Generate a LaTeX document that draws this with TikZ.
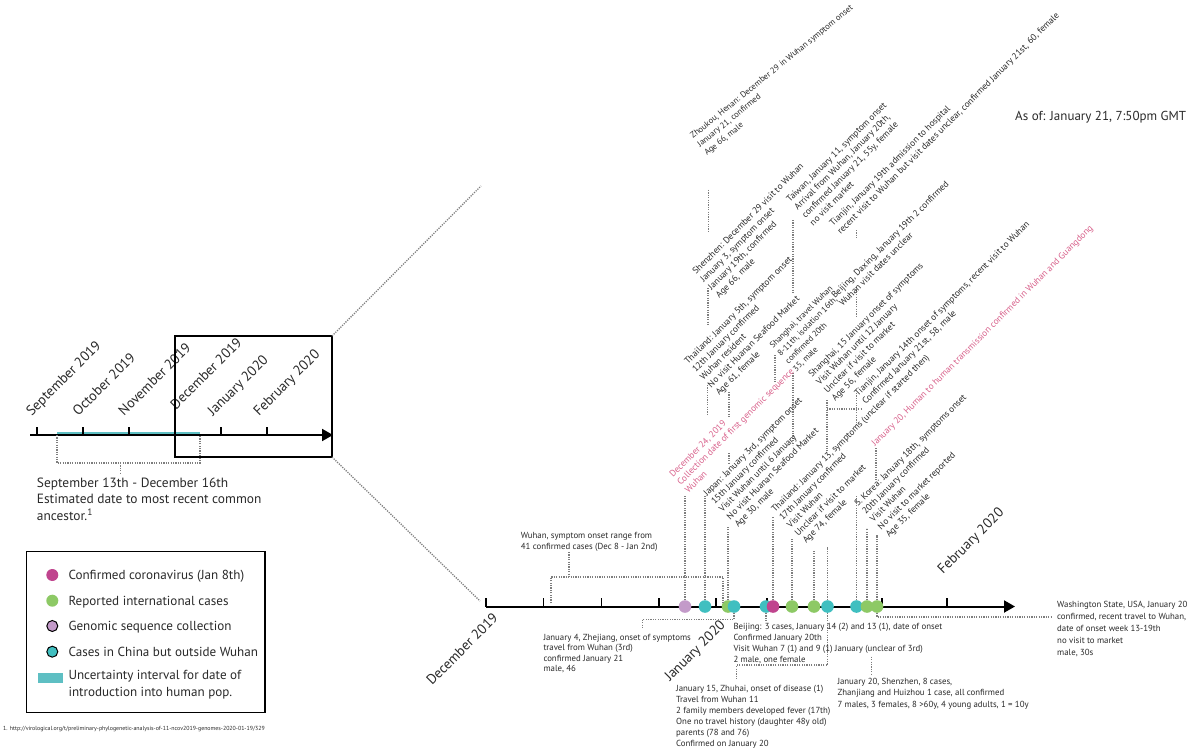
\documentclass[tikz,border=0pt]{standalone}
\usepackage{fontspec}
\setmainfont{PT Sans}
\usetikzlibrary{arrows.meta}
\definecolor{cmag}{HTML}{C0448E}
\definecolor{cgreen}{HTML}{8DC965}
\definecolor{cpurp}{HTML}{C39AC9}
\definecolor{cteal}{HTML}{40BFC0}
\definecolor{cbar}{HTML}{5EBFC3}
\definecolor{cpink}{HTML}{D9628C}
\definecolor{cdot}{HTML}{7E7E7E}
\definecolor{ctext}{HTML}{2A2A2A}
\newcommand\blk[1]{\begin{tabular}[t]{@{}l@{}}#1\end{tabular}}
\begin{document}
\begin{tikzpicture}[x=1pt,y=-1pt,
  every node/.style={text=ctext},
  dotl/.style={draw=cdot, line width=1.3pt, dash pattern=on 1.2pt off 1.2pt},
  rotl/.style={rotate=45, anchor=base west, inner sep=0pt, font=\fontsize{9.1}{11}\selectfont},
  hl/.style={anchor=base west, inner sep=0pt, font=\fontsize{8.8}{11}\selectfont},
  bigl/.style={rotate=45, anchor=base west, inner sep=0pt, font=\fontsize{14}{16}\selectfont},
  dotc/.style={circle, inner sep=0pt, minimum size=12.6pt},
  axisl/.style={draw=black, line width=2pt, -{Triangle[length=11pt,width=12pt]}},
  tickl/.style={draw=black, line width=1.6pt}]
\useasboundingbox (0,0) rectangle (1200,749);
\fill[white] (0,0) rectangle (1200,749);

% ---------- left overview timeline ----------
\fill[cbar] (57,431.5) rectangle (200,435);
\draw[axisl] (30,435) -- (333,435);
\foreach \x in {36.7,82.7,128.7,174.7,220.7,266.7} \draw[tickl] (\x,427) -- (\x,435);
\node[bigl] (mSep) at (31.7,416.7) {September 2019};
\node[bigl] (mOct) at (78.3,416.7) {October 2019};
\node[bigl] (mNov) at (124,416.7) {November 2019};
\node[bigl] (mDec) at (176,410.5) {December 2019};
\node[bigl] (mJan) at (213,416.7) {January 2020};
\node[bigl] (mFeb) at (259,416.7) {February 2020};
\draw[black, line width=1.3pt] (175,336) rectangle (332,457);
\coordinate (zTR) at (332,336);
\coordinate (zBR) at (332,457);
\coordinate (zT) at (481,186);
\coordinate (zB) at (480,601);
\draw[dotl] (zTR) -- (zT);
\draw[dotl] (zBR) -- (zB);
\coordinate (bL) at (57,435); \coordinate (bR) at (200,435);
\coordinate (bM) at (120.7,474);
\draw[dotl] (bL) -- (57,463) -- (200,463) -- (bR);
\draw[dotl] (120.7,463) -- (bM);
\node[anchor=base west, inner sep=0pt, font=\fontsize{13.4}{16.7}\selectfont] (tmrca) at (36.7,487)
  {\blk{September 13th - December 16th\\Estimated date to most recent common\\ancestor.\textsuperscript{1}}};

% ---------- legend ----------
\draw[black, line width=1.3pt] (26.7,551.7) rectangle (265,712.7);
\node[dotc, minimum size=12pt, fill=cmag] (l1) at (52.3,575) {};
\node[dotc, minimum size=12pt, fill=cgreen] (l2) at (52.3,600.7) {};
\node[dotc, minimum size=11pt, fill=cpurp, draw=black, line width=1pt] (l3) at (52.3,626) {};
\node[dotc, minimum size=11pt, fill=cteal, draw=black, line width=1pt] (l4) at (52.3,651.7) {};
\fill[cbar] (38.3,672.7) rectangle (62.7,682.7);
\begin{scope}[every node/.style={anchor=base west, inner sep=0pt, text=ctext, font=\fontsize{13.1}{16.7}\selectfont}]
\node (lt1) at (68.3,579.5) {Confirmed coronavirus (Jan 8th)};
\node (lt2) at (68.3,605.2) {Reported international cases};
\node (lt3) at (68.3,630.5) {Genomic sequence collection};
\node (lt4) at (68.3,656.2) {Cases in China but outside Wuhan};
\node (lt5) at (68.3,679.5) {\blk{Uncertainty interval for date of\\introduction into human pop.}};
\end{scope}
\node[anchor=base west, inner sep=0pt, font=\fontsize{5.9}{7}\selectfont] (foot) at (3,730)
  {1. http://virological.org/t/preliminary-phylogenetic-analysis-of-11-ncov2019-genomes-2020-01-19/329};

% ---------- main timeline ----------
\draw[axisl] (486,606.5) -- (1015,606.5);
\foreach \x in {486,543.3,601.3,659,716,767,882,946.7} \draw[tickl] (\x,598) -- (\x,606.5);
\node[bigl] (bDec) at (432,686) {December 2019};
\node[bigl] (bJan) at (670,682) {January 2020};
\node[bigl] (bFeb) at (943,575) {February 2020};

\node[dotc, fill=cpurp] (c1) at (685,606.5) {};
\node[dotc, fill=cteal] (c2) at (705,606.5) {};
\node[dotc, fill=cgreen] (c3) at (728,606.5) {};
\node[dotc, fill=cteal] (c4) at (734,606.5) {};
\node[dotc, fill=cteal] (c5) at (766,606.5) {};
\node[dotc, fill=cmag] (c6) at (773,606.5) {};
\node[dotc, fill=cgreen] (c7) at (792,606.5) {};
\node[dotc, fill=cgreen] (c8) at (814,606.5) {};
\node[dotc, fill=cteal] (c9) at (827.5,606.5) {};
\node[dotc, fill=cteal] (c10) at (856.5,606.5) {};
\node[dotc, fill=cgreen] (c11) at (867,606.5) {};
\node[dotc, fill=cgreen] (c12) at (877,606.5) {};

% connectors above axis
\coordinate (u1) at (685,495);   \draw[dotl] (c1) -- (u1);
\coordinate (u2) at (705,495);   \draw[dotl] (c2) -- (u2);
\draw[dotl] (707.5,385) -- (707.5,415);
\draw[dotl] (708,288) -- (708,326);
\draw[dotl] (708.5,190) -- (708.5,232);
\coordinate (u3) at (728,527);   \draw[dotl] (c3) -- (u3);
\draw[dotl] (729,453) -- (729,463);
\draw[dotl] (729,392) -- (729,418);
\coordinate (u6) at (773,517);   \draw[dotl] (c6) -- (u6);
\draw[dotl] (775,355) -- (775,382);
\coordinate (u7) at (792,538);   \draw[dotl] (c7) -- (u7);
\draw[dotl] (793,373) -- (793,445);
\draw[dotl] (793,220) -- (793,293);
\coordinate (u8) at (814,550);   \draw[dotl] (c8) -- (u8);
\coordinate (u9) at (827.5,547); \draw[dotl] (c9) -- (u9);
\draw[dotl] (827,400) -- (827,451);
\draw[dotl] (827,409) -- (862,409);
\coordinate (u10) at (856.5,495); \draw[dotl] (c10) -- (u10);
\draw[dotl] (856.5,393) -- (856.5,425);
\draw[dotl] (856.5,287) -- (856.5,318);
\draw[dotl] (856.5,230) -- (856.5,238);
\coordinate (u11) at (867,528);  \draw[dotl] (c11) -- (u11);
\coordinate (u12) at (877,535);  \draw[dotl] (c12) -- (u12);
\draw[dotl] (876,448) -- (876,480);

% connectors below axis
\coordinate (wuT) at (569,552);
\draw[dotl] (wuT) -- (569,577);
\draw[dotl] (551,603) -- (551,577) -- (723,577) -- (723,603);
\coordinate (zjT) at (642.3,628.3);
\draw[dotl] (c4) -- (734,619.3) -- (642.3,619.3) -- (zjT);
\coordinate (bjT) at (766,621.7);
\draw[dotl] (c5) -- (bjT);
\coordinate (zhT) at (736.7,680);
\draw[dotl] (c9) -- (827.5,665) -- (736.7,665) -- (zhT);
\draw[dotl] (871.7,656.7) -- (871.7,675);
\coordinate (waT) at (1052,617);
\draw[dotl] (c12) -- (877,617) -- (waT);

% ---------- rotated labels ----------
\node[rotl, rotate=-6, font=\fontsize{8.5}{11}\selectfont] (zhoukou) at (693,139) {\blk{Zhoukou, Henan: December 29 in Wuhan symptom onset\\January 21, confirmed\\Age 66, male}};
\node[rotl] (shenzhen) at (696,275) {\blk{Shenzhen: December 29 visit to Wuhan\\January 3, symptom onset\\January 19th, confirmed\\Age 66, male}};
\node[rotl] (taiwan) at (790,203) {\blk{Taiwan, January 11, symptom onset\\Arrival from Wuhan, January 20th,\\confirmed January 21, 55y, female\\no visit market}};
\node[rotl] (tianjinA) at (833,227) {\blk{Tianjin, January 19th admission to hospital\\recent visit to Wuhan but visit dates unclear, confirmed January 21st, 60, female}};
\node[rotl] (daxing) at (835,299) {\blk{Beijing, Daxing, January 19th 2 confirmed\\Wuhan visit dates unclear}};
\node[rotl] (thaiA) at (688,365) {\blk{Thailand: January 5th, symptom onset\\12th January confirmed\\Wuhan resident\\No visit Huanan Seafood Market\\Age 61, female}};
\node[rotl, font=\fontsize{8.4}{11}\selectfont] (shanghaiA) at (773,349) {\blk{Shanghai, travel Wuhan\\8-11th, isolation 16th,\\confirmed 20th\\35, male}};
\node[rotl] (shanghaiB) at (812,378) {\blk{Shanghai, 15 January onset of symptoms\\Visit Wuhan until 12 January\\Unclear if visit to market\\Age 56, female}};
\node[rotl] (tianjinB) at (858,397) {\blk{Tianjin, January 14th onset of symptoms, recent visit to Wuhan\\Confirmed January 21st, 58, male}};
\node[rotl, text=cpink] (dec24) at (673,478) {\blk{December 24, 2019\\Collection date of first genomic sequence\\Wuhan}};
\node[rotl] (japan) at (707,497) {\blk{Japan: January 3rd, symptom onset\\15th January confirmed\\Visit Wuhan until 6 January\\No visit Huanan Seafood Market\\Age 30, male}};
\node[rotl] (thaiB) at (775,513) {\blk{Thailand: January 13, symptoms (unclear if started then)\\17th January confirmed\\Visit Wuhan\\Unclear if visit to market\\Age 74, female}};
\node[rotl, text=cpink] (jan20) at (875,447) {January 20, Human to human transmission confirmed in Wuhan and Guangdong};
\node[rotl] (korea) at (858,507) {\blk{S. Korea: January 18th, symptoms onset\\20th January confirmed\\Visit Wuhan\\No visit to market reported\\Age 35, female}};

% ---------- horizontal labels ----------
\node[hl, font=\fontsize{8.8}{10.7}\selectfont] (wuhan) at (520.7,538.5) {\blk{Wuhan, symptom onset range from\\41 confirmed cases (Dec 8 - Jan 2nd)}};
\node[hl, font=\fontsize{8.8}{10.6}\selectfont] (zhejiang) at (543.3,640) {\blk{January 4, Zhejiang, onset of symptoms\\travel from Wuhan (3rd)\\confirmed January 21\\male, 46}};
\node[hl, font=\fontsize{8.8}{11.3}\selectfont] (beijing) at (733.3,629) {\blk{Beijing: 3 cases, January 14 (2) and 13 (1), date of onset\\Confirmed January 20th\\Visit Wuhan 7 (1) and 9 (1) January (unclear of 3rd)\\2 male, one female}};
\node[hl, font=\fontsize{8.8}{11}\selectfont] (zhuhai) at (676,691.3) {\blk{January 15, Zhuhai, onset of disease (1)\\Travel from Wuhan 11\\2 family members developed fever (17th)\\One no travel history (daughter 48y old)\\parents (78 and 76)\\Confirmed on January 20}};
\node[hl, font=\fontsize{8.8}{11.2}\selectfont] (shenzhenB) at (837.3,684.7) {\blk{January 20, Shenzhen, 8 cases,\\Zhanjiang and Huizhou 1 case, all confirmed\\7 males, 3 females, 8 >60y, 4 young adults, 1 = 10y}};
\node[hl, font=\fontsize{8.8}{12}\selectfont] (washington) at (1057,607) {\blk{Washington State, USA, January 20\\confirmed, recent travel to Wuhan,\\date of onset week 13-19th\\no visit to market\\male, 30s}};
\node[anchor=base west, inner sep=0pt, font=\fontsize{13}{15}\selectfont] (asof) at (1015,121) {As of: January 21, 7:50pm GMT};
\end{tikzpicture}
\end{document}
